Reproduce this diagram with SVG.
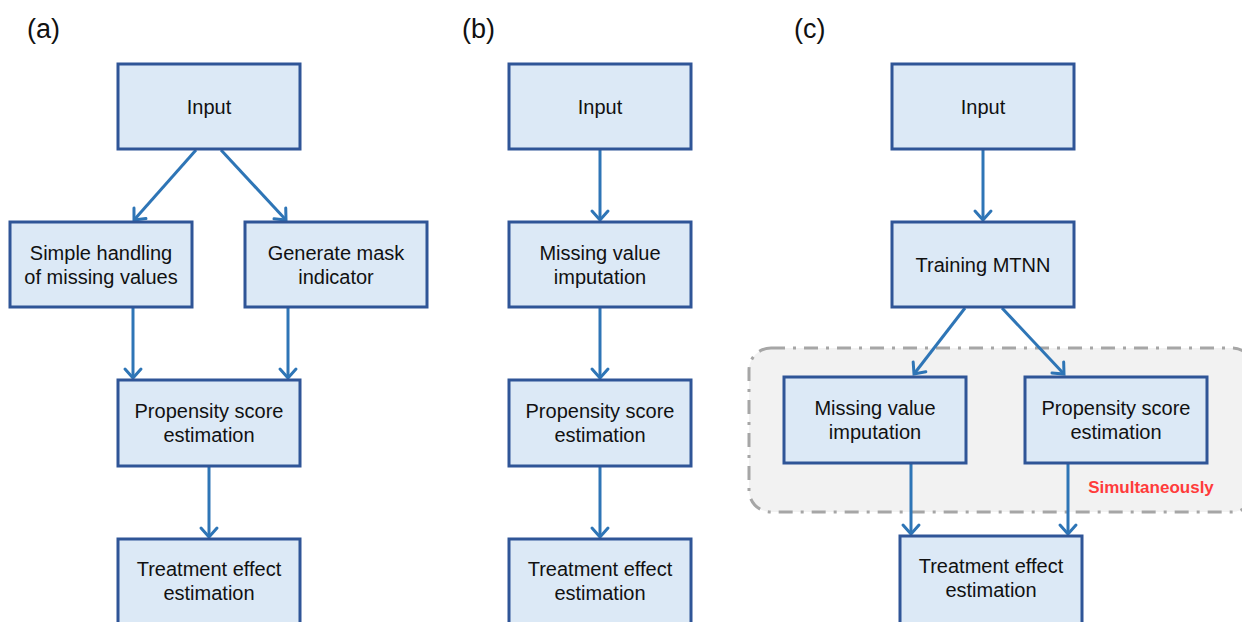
<svg xmlns="http://www.w3.org/2000/svg" width="1242" height="622" viewBox="0 0 1242 622">
<style>
.box{fill:#dce9f6;stroke:#2f5597;stroke-width:3}
.t{font-family:"Liberation Sans",Arial,sans-serif;font-size:20px;fill:#111;text-anchor:middle}
.lab{font-family:"Liberation Sans",Arial,sans-serif;font-size:27px;fill:#111}
.c{stroke:#2e75b6;stroke-width:3;fill:none;marker-end:url(#ah)}
</style>
<defs>
<marker id="ah" markerUnits="userSpaceOnUse" viewBox="-12 -12 16 24" refX="0" refY="0" markerWidth="16" markerHeight="24" orient="auto" overflow="visible">
<path d="M-9,-8 L0,0 L-9,8" fill="none" stroke="#2e75b6" stroke-width="3" stroke-linecap="round" stroke-linejoin="miter"/>
</marker>
</defs>
<rect width="1242" height="622" fill="#fff"/>
<text class="lab" x="27" y="38">(a)</text>
<text class="lab" x="462" y="38">(b)</text>
<text class="lab" x="794" y="38">(c)</text>
<g id="region-simul">
<rect x="749" y="348" width="505" height="164" rx="22" fill="#f2f2f2" stroke="#a6a6a6" stroke-width="3" stroke-dasharray="14 8 3 8"/>
<text x="1151" y="493" font-family="'Liberation Sans',Arial,sans-serif" font-size="17" font-weight="bold" fill="#ff3b3b" text-anchor="middle">Simultaneously</text>
</g>
<g id="connectors">
<line class="c" x1="196" y1="150" x2="134" y2="220"/>
<line class="c" x1="221" y1="150" x2="286" y2="220"/>
<line class="c" x1="133" y1="308" x2="133" y2="378"/>
<line class="c" x1="288" y1="308" x2="288" y2="378"/>
<line class="c" x1="209" y1="467" x2="209" y2="537"/>
<line class="c" x1="600" y1="150" x2="600" y2="220"/>
<line class="c" x1="600" y1="308" x2="600" y2="378"/>
<line class="c" x1="600" y1="467" x2="600" y2="537"/>
<line class="c" x1="983" y1="150" x2="983" y2="220"/>
<line class="c" x1="965" y1="308" x2="914" y2="374"/>
<line class="c" x1="1002" y1="308" x2="1064" y2="374"/>
<line class="c" x1="911" y1="464" x2="911" y2="534"/>
<line class="c" x1="1068" y1="464" x2="1068" y2="534"/>
</g>
<g id="a-input"><rect class="box" x="118" y="64" width="182" height="85"/><text class="t" x="209" y="114">Input</text></g>
<g id="a-simple"><rect class="box" x="10" y="222" width="182" height="85"/><text class="t" x="101" y="260">Simple handling</text><text class="t" x="101" y="284">of missing values</text></g>
<g id="a-mask"><rect class="box" x="245" y="222" width="182" height="85"/><text class="t" x="336" y="260">Generate mask</text><text class="t" x="336" y="284">indicator</text></g>
<g id="a-prop"><rect class="box" x="118" y="380" width="182" height="86"/><text class="t" x="209" y="418">Propensity score</text><text class="t" x="209" y="442">estimation</text></g>
<g id="a-treat"><rect class="box" x="118" y="539" width="182" height="88"/><text class="t" x="209" y="576">Treatment effect</text><text class="t" x="209" y="600">estimation</text></g>
<g id="b-input"><rect class="box" x="509" y="64" width="182" height="85"/><text class="t" x="600" y="114">Input</text></g>
<g id="b-missing"><rect class="box" x="509" y="222" width="182" height="85"/><text class="t" x="600" y="260">Missing value</text><text class="t" x="600" y="284">imputation</text></g>
<g id="b-prop"><rect class="box" x="509" y="380" width="182" height="86"/><text class="t" x="600" y="418">Propensity score</text><text class="t" x="600" y="442">estimation</text></g>
<g id="b-treat"><rect class="box" x="509" y="539" width="182" height="88"/><text class="t" x="600" y="576">Treatment effect</text><text class="t" x="600" y="600">estimation</text></g>
<g id="c-input"><rect class="box" x="892" y="64" width="182" height="85"/><text class="t" x="983" y="114">Input</text></g>
<g id="c-train"><rect class="box" x="892" y="222" width="182" height="85"/><text class="t" x="983" y="272">Training MTNN</text></g>
<g id="c-missing"><rect class="box" x="784" y="377" width="182" height="86"/><text class="t" x="875" y="415">Missing value</text><text class="t" x="875" y="439">imputation</text></g>
<g id="c-prop"><rect class="box" x="1025" y="377" width="182" height="86"/><text class="t" x="1116" y="415">Propensity score</text><text class="t" x="1116" y="439">estimation</text></g>
<g id="c-treat"><rect class="box" x="900" y="536" width="182" height="88"/><text class="t" x="991" y="573">Treatment effect</text><text class="t" x="991" y="597">estimation</text></g>
</svg>
